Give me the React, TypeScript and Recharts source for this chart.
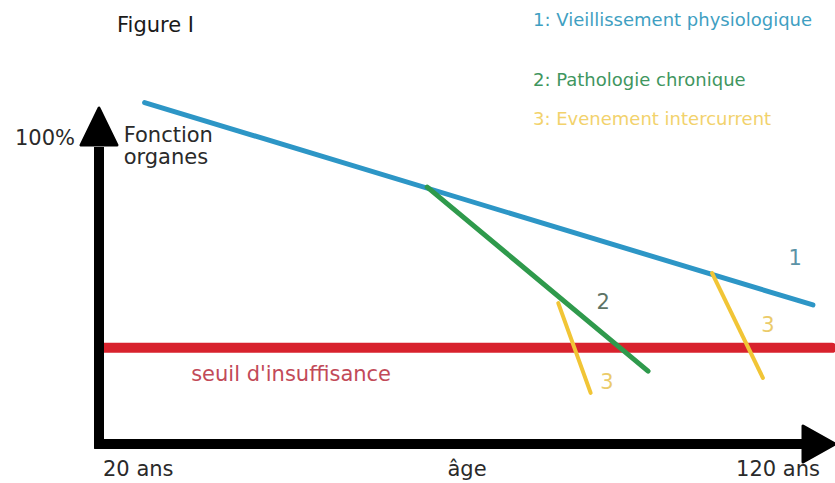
import { ComposedChart, Line, XAxis, YAxis, ReferenceLine, ReferenceDot } from 'recharts'

// age (ans) / fonction des organes (%)
const vieillissement = [
  { age: 26.2, fonction: 111.5 },
  { age: 117, fonction: 45.4 },
]
const pathologie = [
  { age: 64.6, fonction: 83.9 },
  { age: 94.6, fonction: 23.8 },
]
const evenementA = [
  { age: 82.4, fonction: 46 },
  { age: 86.8, fonction: 16.7 },
]
const evenementB = [
  { age: 103.3, fonction: 55.8 },
  { age: 110.2, fonction: 21.6 },
]
const seuil = [
  { age: 20, fonction: 31.4 },
  { age: 119.6, fonction: 31.4 },
]

const ageTicks = [20, 70, 120]
const ageLabels: Record<number, string> = { 20: '20 ans', 70: 'âge', 120: '120 ans' }
const fonctionTicks = [100]

const curveLabels = [
  { text: '1', age: 114.6, fonction: 60.7, color: '#5b93a6' },
  { text: '2', age: 88.5, fonction: 46.4, color: '#5e7466' },
  { text: '3', age: 110.9, fonction: 38.9, color: '#ebcb6a' },
  { text: '3', age: 89, fonction: 20.2, color: '#ebcb6a' },
]

const legendItems = [
  { text: '1: Vieillissement physiologique', color: '#3f9fc2', top: 11 },
  { text: '2: Pathologie chronique', color: '#3f9660', top: 71 },
  { text: '3: Evenement intercurrent', color: '#f2d26c', top: 110 },
]

const font = '"DejaVu Sans", Verdana, sans-serif'

function AgeTick({ x, y, payload }: any) {
  const v = payload.value
  const anchor = v === 20 ? 'start' : v === 120 ? 'end' : 'middle'
  const dx = v === 20 ? 4 : v === 120 ? -15 : 0
  return (
    <text x={x + dx} y={y + 24} textAnchor={anchor} fontSize={21} fontFamily={font} fill='#2a2a2a'>
      {ageLabels[v]}
    </text>
  )
}

// triangle pointe vers le haut
const arrowUp = ({ cx, cy }: any) => (
  <polygon
    points={`${cx},${cy} ${cx - 18},${cy + 37} ${cx + 18},${cy + 37}`}
    fill='#000'
    stroke='#000'
    strokeWidth={3}
    strokeLinejoin='round'
  />
)

// triangle pointe vers la droite
const arrowRight = ({ cx, cy }: any) => (
  <polygon
    points={`${cx},${cy} ${cx - 32},${cy - 18} ${cx - 32},${cy + 18}`}
    fill='#000'
    stroke='#000'
    strokeWidth={3}
    strokeLinejoin='round'
  />
)

export default function App() {
  return (
    <div style={{ position: 'absolute', left: 0, top: 0, width: 835, height: 483, background: '#fff', fontFamily: font }}>
      <div style={{ position: 'absolute', left: 117, top: 15, fontSize: 21, lineHeight: 1, color: '#1a1a1a' }}>Figure I</div>
      {legendItems.map((l) => (
        <div
          key={l.text}
          style={{ position: 'absolute', left: 533, top: l.top, fontSize: 18, lineHeight: 1, color: l.color, whiteSpace: 'nowrap' }}
        >
          {l.text}
        </div>
      ))}
      <ComposedChart width={835} height={483} margin={{ top: 0, right: 0, bottom: 0, left: 0 }}>
        <XAxis
          type='number'
          dataKey='age'
          domain={[20, 120]}
          ticks={ageTicks}
          height={39}
          axisLine={false}
          tickLine={false}
          tick={<AgeTick />}
          interval={0}
        />
        <YAxis
          type='number'
          dataKey='fonction'
          domain={[0, 145]}
          ticks={fonctionTicks}
          width={99}
          axisLine={false}
          tickLine={false}
          tickMargin={18}
          tickFormatter={(v) => `${v}%`}
          tick={{ fontSize: 21, fontFamily: font, fill: '#2a2a2a' }}
        />

        <Line data={seuil} dataKey='fonction' stroke='#d8222d' strokeWidth={10} strokeLinecap='round' dot={false} isAnimationActive={false} />
        <Line data={vieillissement} dataKey='fonction' stroke='#2d96c6' strokeWidth={5} strokeLinecap='round' dot={false} isAnimationActive={false} />
        <Line data={pathologie} dataKey='fonction' stroke='#2f9a4c' strokeWidth={5} strokeLinecap='round' dot={false} isAnimationActive={false} />
        <Line data={evenementA} dataKey='fonction' stroke='#f1c536' strokeWidth={4} strokeLinecap='round' dot={false} isAnimationActive={false} />
        <Line data={evenementB} dataKey='fonction' stroke='#f1c536' strokeWidth={4} strokeLinecap='round' dot={false} isAnimationActive={false} />

        {/* axes fléchés */}
        <ReferenceLine segment={[{ x: 20, y: -1.5 }, { x: 20, y: 97 }]} stroke='#000' strokeWidth={10} ifOverflow='visible' />
        <ReferenceLine segment={[{ x: 19.35, y: 0 }, { x: 116, y: 0 }]} stroke='#000' strokeWidth={10} ifOverflow='visible' />
        <ReferenceDot x={20} y={109.7} r={0} shape={arrowUp} ifOverflow='visible' />
        <ReferenceDot x={120} y={0} r={0} shape={arrowRight} ifOverflow='visible' />

        <ReferenceDot
          x={46.1}
          y={22.9}
          r={0}
          ifOverflow='visible'
          shape={({ cx, cy }: any) => (
            <text x={cx} y={cy} textAnchor='middle' dominantBaseline='central' fontSize={21} fontFamily={font} fill='#c24a58'>
              seuil d'insuffisance
            </text>
          )}
        />
        <ReferenceDot
          x={23.35}
          y={98.7}
          r={0}
          ifOverflow='visible'
          shape={({ cx, cy }: any) => (
            <text x={cx} y={cy} fontSize={21} fontFamily={font} fill='#2a2a2a'>
              <tspan x={cx}>Fonction</tspan>
              <tspan x={cx} dy={22}>organes</tspan>
            </text>
          )}
        />
        {curveLabels.map((c, i) => (
          <ReferenceDot
            key={i}
            x={c.age}
            y={c.fonction}
            r={0}
            ifOverflow='visible'
            shape={({ cx, cy }: any) => (
              <text x={cx} y={cy} textAnchor='middle' dominantBaseline='central' fontSize={21} fontFamily={font} fill={c.color}>
                {c.text}
              </text>
            )}
          />
        ))}
      </ComposedChart>
    </div>
  )
}
